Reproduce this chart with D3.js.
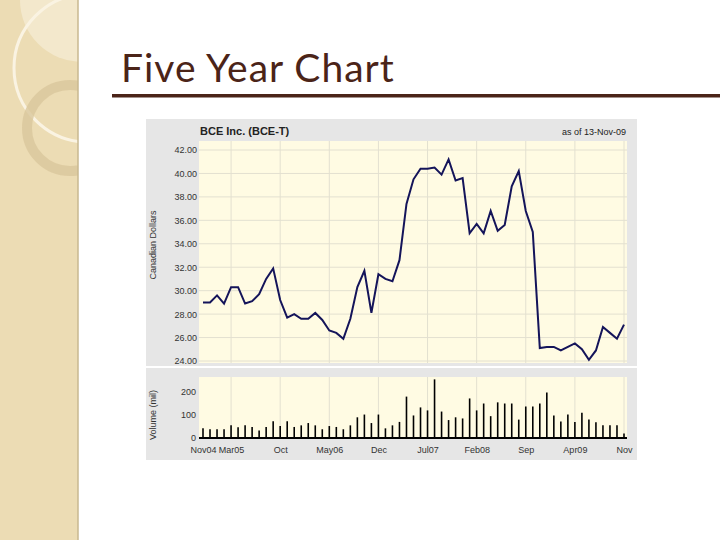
<!DOCTYPE html>
<html><head><meta charset="utf-8">
<script src="https://cdn.jsdelivr.net/npm/d3@7"></script>
<style>body{margin:0;background:#fff}svg{display:block}</style>
</head><body>
<div id="chart"></div>
<script>
// monthly close, Nov 2004 .. Nov 2009
const prices = [29.0,29.0,29.6,28.9,30.3,30.3,28.9,29.1,29.7,31.0,31.9,29.2,27.7,28.0,27.6,27.6,28.1,27.5,26.6,26.4,25.9,27.6,30.3,31.7,28.1,31.4,31.0,30.8,32.6,37.4,39.5,40.4,40.4,40.5,39.9,41.2,39.4,39.6,34.9,35.7,34.9,36.8,35.1,35.6,38.9,40.2,36.8,35.0,25.1,25.2,25.2,24.9,25.2,25.5,25.0,24.1,24.9,26.9,26.4,25.9,27.1];
// monthly volume, millions
const volumes = [42,38,38,38,55,47,55,48,33,48,73,52,73,48,55,65,55,38,52,48,38,55,90,102,65,102,42,55,70,180,98,133,120,255,115,78,90,85,172,120,150,95,155,150,150,80,137,137,150,198,98,72,102,70,110,80,68,55,55,55,20];
const tickIdx = [0,4,11,18,25,32,39,46,53,60];
const tickLabels = ["Nov04","Mar05","Oct","May06","Dec","Jul07","Feb08","Sep","Apr09","Nov"];
const priceTicks = [24,26,28,30,32,34,36,38,40,42];
const volTicks = [0,100,200];

const W = 720, H = 540;
const svg = d3.select("#chart").append("svg").attr("width", W).attr("height", H);

// slide decoration on the left
svg.append("defs").append("clipPath").attr("id","strip")
  .append("rect").attr("x",0).attr("y",0).attr("width",78).attr("height",H);
const deco = svg.append("g").attr("clip-path","url(#strip)");
deco.append("rect").attr("x",0).attr("y",0).attr("width",78).attr("height",H).attr("fill","#ecdcb4");
deco.append("circle").attr("cx",82).attr("cy",0).attr("r",62).attr("fill","#f3e8cc");
deco.append("circle").attr("cx",88).attr("cy",68).attr("r",74).attr("fill","none").attr("stroke","#faf3e2").attr("stroke-width",3);
deco.append("circle").attr("cx",70).attr("cy",128).attr("r",43).attr("fill","none").attr("stroke","#d9c79c").attr("stroke-width",10).attr("opacity",0.8);
svg.append("line").attr("x1",78).attr("x2",78).attr("y1",0).attr("y2",H).attr("stroke","#c9b890").attr("stroke-width",1.5);

svg.append("text").attr("x",121).attr("y",82).text("Five Year Chart")
  .attr("font-family","Lato, 'Open Sans', sans-serif").attr("font-size",39).attr("letter-spacing",1)
  .attr("fill","#4b2418");
svg.append("rect").attr("x",112).attr("y",94).attr("width",W-112).attr("height",3.5).attr("fill","#4b2418");

// chart panel
svg.append("rect").attr("x",146).attr("y",119).attr("width",491).attr("height",341).attr("fill","#e6e6e6");
svg.append("rect").attr("x",146).attr("y",366).attr("width",491).attr("height",2).attr("fill","#ffffff");

const x = d3.scaleLinear().domain([0,60]).range([203,624]);
const yP = d3.scaleLinear().domain([24,42]).range([361,150]);
const yV = d3.scaleLinear().domain([0,200]).range([438,392]);
const font = "'Liberation Sans', Arial, sans-serif";

// price plot
svg.append("rect").attr("x",199).attr("y",141).attr("width",428).attr("height",222).attr("fill","#fffbe3");
svg.append("g").selectAll("line").data(priceTicks).join("line")
  .attr("x1",199).attr("x2",627).attr("y1",d=>yP(d)).attr("y2",d=>yP(d)).attr("stroke","#e3e0d0");
svg.append("g").selectAll("line").data(tickIdx.slice(1)).join("line")
  .attr("x1",d=>x(d)).attr("x2",d=>x(d)).attr("y1",141).attr("y2",363).attr("stroke","#e3e0d0");
svg.append("g").attr("transform","translate(199,0)")
  .call(d3.axisLeft(yP).tickValues(priceTicks).tickFormat(d3.format(".2f")).tickSize(0).tickPadding(2))
  .call(g=>g.select(".domain").remove())
  .selectAll("text").attr("font-family",font).attr("font-size",9).attr("fill","#333");
svg.append("path").datum(prices)
  .attr("d", d3.line().x((d,i)=>x(i)).y(d=>yP(d)))
  .attr("fill","none").attr("stroke","#14145a").attr("stroke-width",2);
svg.append("text").attr("x",200).attr("y",135).text("BCE Inc. (BCE-T)")
  .attr("font-family",font).attr("font-size",11).attr("font-weight","bold").attr("fill","#222");
svg.append("text").attr("x",626).attr("y",135).attr("text-anchor","end").text("as of 13-Nov-09")
  .attr("font-family",font).attr("font-size",9).attr("fill","#222");
svg.append("text").attr("transform","translate(156,245) rotate(-90)").attr("text-anchor","middle")
  .text("Canadian Dollars").attr("font-family",font).attr("font-size",9).attr("fill","#333");

// volume plot
svg.append("rect").attr("x",199).attr("y",377).attr("width",428).attr("height",62).attr("fill","#fffbe3");
svg.append("g").selectAll("line").data(tickIdx.slice(1)).join("line")
  .attr("x1",d=>x(d)).attr("x2",d=>x(d)).attr("y1",377).attr("y2",438).attr("stroke","#e3e0d0");
svg.append("g").selectAll("line").data(volumes).join("line")
  .attr("x1",(d,i)=>x(i)).attr("x2",(d,i)=>x(i)).attr("y1",yV(0)).attr("y2",d=>yV(d))
  .attr("stroke","#000").attr("stroke-width",1.6);
svg.append("line").attr("x1",199).attr("x2",627).attr("y1",yV(0)).attr("y2",yV(0)).attr("stroke","#000").attr("stroke-width",2);
svg.append("g").attr("transform","translate(199,0)")
  .call(d3.axisLeft(yV).tickValues(volTicks).tickSize(0).tickPadding(3))
  .call(g=>g.select(".domain").remove())
  .selectAll("text").attr("font-family",font).attr("font-size",9).attr("fill","#333");
svg.append("g").attr("transform","translate(0,444)")
  .call(d3.axisBottom(x).tickValues(tickIdx).tickFormat((d,i)=>tickLabels[i]).tickSize(0).tickPadding(3))
  .call(g=>g.select(".domain").remove())
  .selectAll("text").attr("font-family",font).attr("font-size",9).attr("fill","#333")
  .attr("text-anchor",(d,i)=>i===tickIdx.length-1?"end":"middle")
  .attr("dx",(d,i)=>i===tickIdx.length-1?"8":"0");
svg.append("text").attr("transform","translate(156,415) rotate(-90)").attr("text-anchor","middle")
  .text("Volume (mil)").attr("font-family",font).attr("font-size",9).attr("fill","#333");
</script>
</body></html>
